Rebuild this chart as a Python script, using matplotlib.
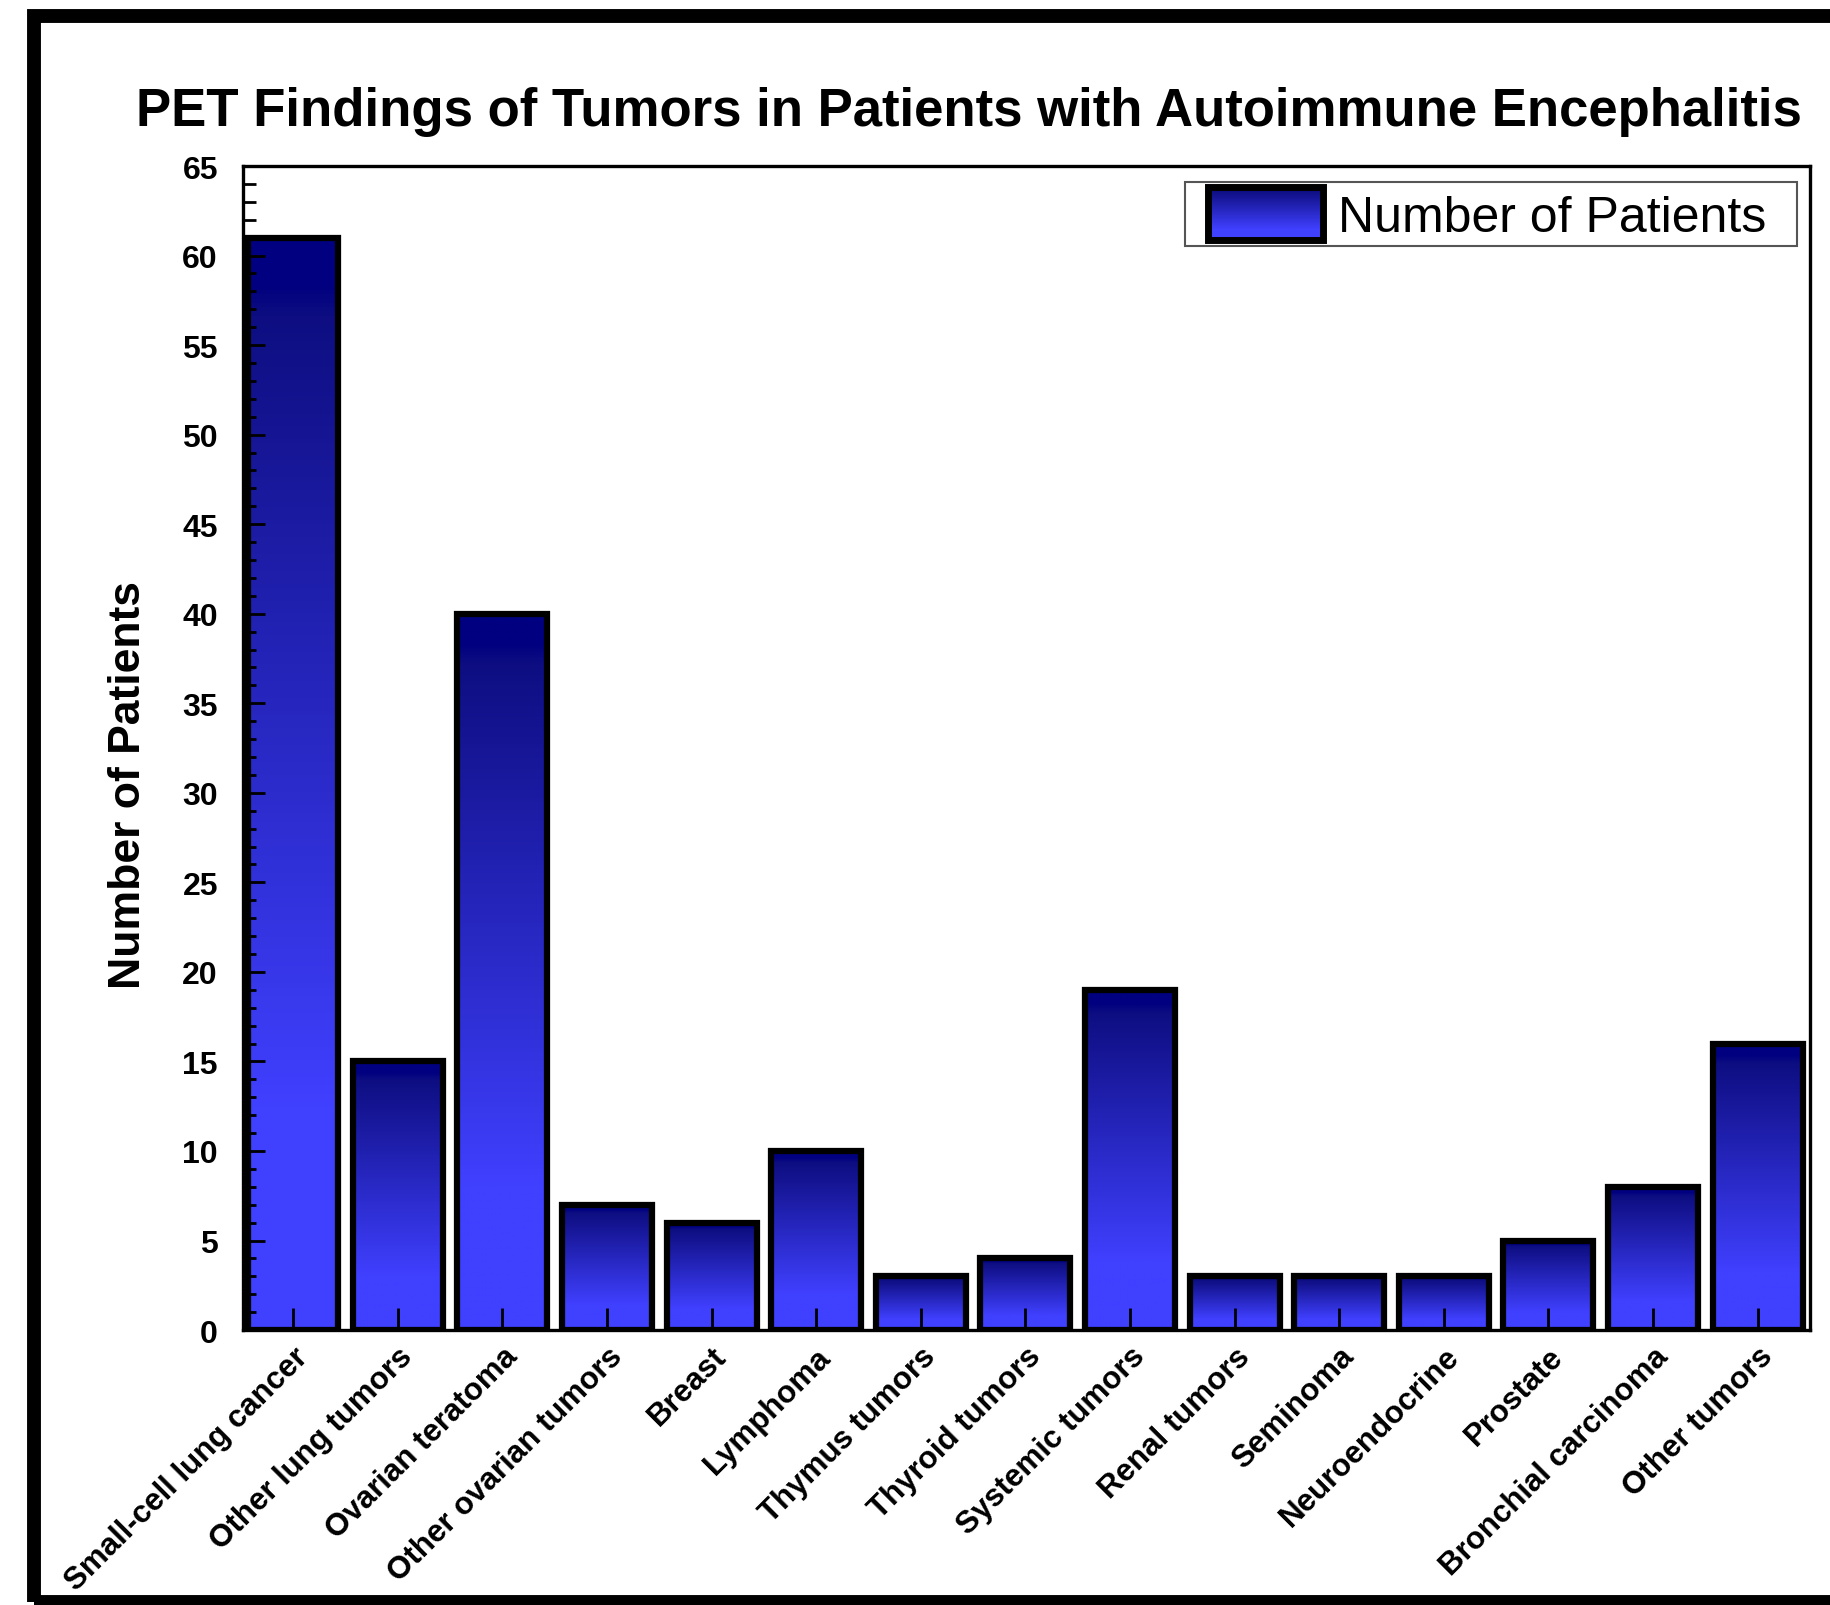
import matplotlib
matplotlib.use('Agg')
import matplotlib.pyplot as plt
import numpy as np
from matplotlib.colors import LinearSegmentedColormap
from matplotlib.patches import Rectangle
from matplotlib.legend_handler import HandlerBase
from matplotlib.image import BboxImage
from matplotlib.transforms import Bbox, TransformedBbox

plt.rcParams['font.family'] = ['Liberation Sans', 'DejaVu Sans']

categories = ['Small-cell lung cancer', 'Other lung tumors', 'Ovarian teratoma',
              'Other ovarian tumors', 'Breast', 'Lymphoma', 'Thymus tumors',
              'Thyroid tumors', 'Systemic tumors', 'Renal tumors', 'Seminoma',
              'Neuroendocrine', 'Prostate', 'Bronchial carcinoma', 'Other tumors']
patients = [61, 15, 40, 7, 6, 10, 3, 4, 19, 3, 3, 3, 5, 8, 16]
yticks = list(range(0, 70, 5))

# dark navy at the top fading to bright blue at the bottom
cmap = LinearSegmentedColormap.from_list(
    'bar', [(0.0, '#4040ff'), (0.2, '#4040ff'), (0.93, '#0e0e82'), (0.96, '#000080'), (1.0, '#000080')])
grad = np.linspace(0, 1, 256).reshape(-1, 1)


class HandlerGradient(HandlerBase):
    # gradient swatch with a thick black border, inset a little from the left
    def create_artists(self, legend, orig_handle, xdescent, ydescent, width, height, fontsize, trans):
        off = 0.36 * fontsize
        bb = TransformedBbox(Bbox.from_bounds(-xdescent + off, -ydescent, width - off, height), trans)
        img = BboxImage(bb, cmap=cmap, origin='lower', interpolation='bilinear')
        img.set_data(grad)
        img.set_clim(0, 1)
        rect = Rectangle((-xdescent + off, -ydescent), width - off, height, facecolor='none',
                         edgecolor='black', linewidth=5, transform=trans)
        return [img, rect]


fig = plt.figure(figsize=(18.31, 16.06), dpi=100)
ax = fig.add_axes([0.1327, 0.1712, 0.8558, 0.7248])

x = np.arange(len(categories))
w = 0.86
for xi, v in zip(x, patients):
    ax.imshow(grad, extent=(xi - w / 2, xi + w / 2, 0, v), origin='lower', aspect='auto',
              cmap=cmap, vmin=0, vmax=1, interpolation='bilinear', zorder=2)
bars = ax.bar(x, patients, width=w, facecolor='none', edgecolor='black', linewidth=4.5,
              zorder=3, label='Number of Patients')

ax.set_xlim(-0.48, 14.5)
ax.set_ylim(0, 65)
ax.set_yticks(yticks)
ax.set_yticks(range(0, 66), minor=True)
ax.set_xticks(x)
ax.set_xticklabels(categories, rotation=45, ha='right', va='top', rotation_mode='anchor',
                   fontsize=22.5, fontweight='bold')
for lab in ax.get_yticklabels():
    lab.set_fontweight('bold')
ax.tick_params(axis='y', which='major', direction='in', length=16, width=2, labelsize=23, pad=18)
ax.tick_params(axis='y', which='minor', direction='in', length=9, width=2)
ax.tick_params(axis='x', direction='in', length=16, width=2, pad=8)
for t in ax.yaxis.get_major_ticks() + ax.yaxis.get_minor_ticks() + ax.xaxis.get_major_ticks():
    t.tick1line.set_zorder(5)
ax.set_axisbelow(False)
for sp in ax.spines.values():
    sp.set_linewidth(2.4)
    sp.set_zorder(6)

ax.set_ylabel('Number of Patients', fontsize=32, fontweight='bold')
ax.yaxis.set_label_coords(-0.060, 0.469)

leg = ax.legend(handler_map={bars: HandlerGradient()}, loc='upper left',
                bbox_to_anchor=(0.601, 0.90, 0.391, 0.086), mode='expand', fontsize=36,
                fancybox=False, edgecolor='#555555', framealpha=1, handlelength=2.66,
                handleheight=1.25, borderpad=0.1, handletextpad=0.3, borderaxespad=0)
leg.get_frame().set_linewidth(1.5)

fig.text(0.0745, 0.9215, 'PET Findings of Tumors in Patients with Autoimmune Encephalitis',
         fontsize=38.0, fontweight='bold', ha='left', va='baseline')

# black frame around the picture (right side runs off the canvas)
fig.add_artist(Rectangle((0.0186, 0.0019), 1.2, 0.9875, transform=fig.transFigure,
                         facecolor='none', edgecolor='black', linewidth=10))

fig.savefig('out.png', dpi=100)
